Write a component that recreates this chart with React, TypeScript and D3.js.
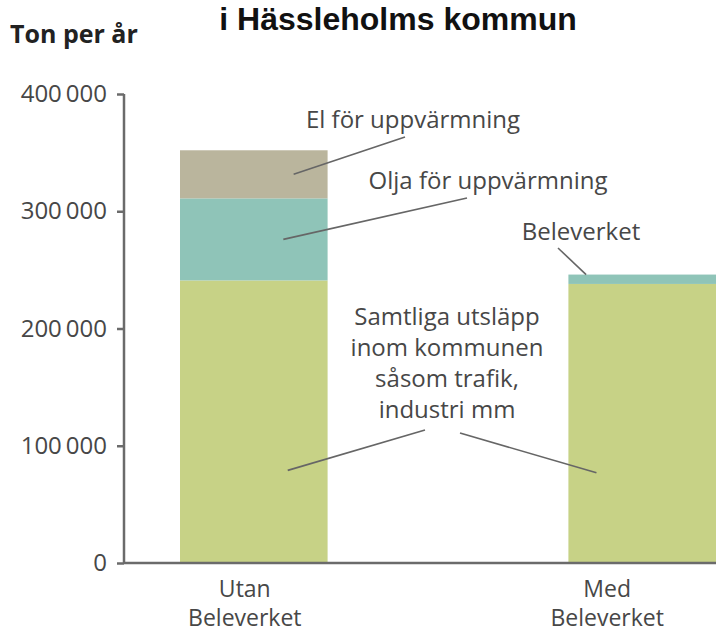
import React, { useEffect, useRef } from "react";
import * as d3 from "d3";

// Data
const categories = ["Utan\nBeleverket", "Med\nBeleverket"];
const seriesNames = ["Samtliga", "Olja", "El"];
const samtligaValues = [241000, 238000];
const oljaValues = [70000, 8000];
const elValues = [41000, 0];
const yTicks = [0, 100000, 200000, 300000, 400000];

const colors: Record<string, string> = {
  Samtliga: "#c7d286",
  Olja: "#8fc4b8",
  El: "#bab59d",
};

const W = 716;
const H = 633;

export default function App() {
  const ref = useRef<SVGSVGElement>(null);

  useEffect(() => {
    if (!ref.current) return;
    const svg = d3.select(ref.current);
    svg.selectAll("*").remove();

    const font = "'Open Sans', 'Noto Sans', sans-serif";
    const textColor = "#474747";
    const axisColor = "#6b6b6b";

    const x = d3
      .scaleBand()
      .domain(categories)
      .range([180, 716])
      .paddingInner(0.62)
      .paddingOuter(0);

    const y = d3.scaleLinear().domain([0, 400000]).range([563, 94]);

    const rows = categories.map((c, i) => ({
      cat: c,
      Samtliga: samtligaValues[i],
      Olja: oljaValues[i],
      El: elValues[i],
    }));
    const stacked = d3.stack<any>().keys(seriesNames)(rows);

    // Title
    svg
      .append("text")
      .attr("x", 398)
      .attr("y", 30)
      .attr("text-anchor", "middle")
      .style("font-family", "'Liberation Sans', Arial, sans-serif")
      .style("font-weight", "bold")
      .style("font-size", "32px")
      .attr("fill", "#111")
      .text("i Hässleholms kommun");

    svg
      .append("text")
      .attr("x", 10)
      .attr("y", 43)
      .style("font-family", font)
      .style("font-weight", "bold")
      .style("font-size", "25px")
      .attr("fill", "#222")
      .text("Ton per år");

    // Bars
    svg
      .append("g")
      .selectAll("g")
      .data(stacked)
      .join("g")
      .attr("fill", (d) => colors[d.key])
      .selectAll("rect")
      .data((d) => d)
      .join("rect")
      .attr("x", (d) => x(d.data.cat) as number)
      .attr("y", (d) => y(d[1]))
      .attr("width", x.bandwidth())
      .attr("height", (d) => y(d[0]) - y(d[1]));

    // Y axis
    const sv = d3.formatLocale({
      decimal: ",",
      thousands: "\u2009",
      grouping: [3],
      currency: ["", ""],
    });
    const fmt = sv.format(",d");
    const yAxis = svg
      .append("g")
      .attr("transform", "translate(124,0)")
      .call(
        d3
          .axisLeft(y)
          .tickValues(yTicks)
          .tickSize(7)
          .tickPadding(10)
          .tickFormat((d) => fmt(d as number))
      );
    yAxis.select(".domain").attr("stroke", axisColor).attr("stroke-width", 2.5).attr("d", "M0,94V563");
    yAxis.selectAll(".tick line").attr("stroke", axisColor).attr("stroke-width", 2.5);
    yAxis
      .selectAll(".tick text")
      .attr("fill", textColor)
      .style("font-family", font)
      .style("font-size", "24px");

    // X baseline
    svg
      .append("line")
      .attr("x1", 124)
      .attr("x2", W)
      .attr("y1", y(0))
      .attr("y2", y(0))
      .attr("stroke", axisColor)
      .attr("stroke-width", 2.5);

    // Category labels
    const labelDx = [-9, -35];
    categories.forEach((c, i) => {
      const t = svg
        .append("text")
        .attr("text-anchor", "middle")
        .attr("fill", textColor)
        .style("font-family", font)
        .style("font-size", "23px");
      c.split("\n").forEach((line, j) => {
        t.append("tspan")
          .attr("x", (x(c) as number) + x.bandwidth() / 2 + labelDx[i])
          .attr("y", 597 + j * 29)
          .text(line);
      });
    });

    // Annotations
    const bx = (i: number, f: number) => (x(categories[i]) as number) + x.bandwidth() * f;
    const notes = [
      { lines: ["El för uppvärmning"], tx: 413, ty: 128, from: [bx(0, 0.77), y(331500)], to: [405, 137] },
      { lines: ["Olja för uppvärmning"], tx: 488, ty: 189, from: [bx(0, 0.7), y(276000)], to: [467, 198] },
      { lines: ["Beleverket"], tx: 581, ty: 240, from: [bx(1, 0.12), y(246000)], to: [558, 248] },
      {
        lines: ["Samtliga utsläpp", "inom kommunen", "såsom trafik,", "industri mm"],
        tx: 447,
        ty: 325,
        from: [bx(0, 0.73), y(79000)],
        to: [425, 430],
      },
    ];
    notes.forEach((n) => {
      const t = svg
        .append("text")
        .attr("text-anchor", "middle")
        .attr("fill", textColor)
        .style("font-family", font)
        .style("font-size", "24px");
      n.lines.forEach((line, j) => {
        t.append("tspan").attr("x", n.tx).attr("y", n.ty + j * 31).text(line);
      });
      svg
        .append("line")
        .attr("x1", n.from[0])
        .attr("y1", n.from[1])
        .attr("x2", n.to[0])
        .attr("y2", n.to[1])
        .attr("stroke", "#666")
        .attr("stroke-width", 1.6);
    });
    // second leader for the Samtliga block, to the right bar
    svg
      .append("line")
      .attr("x1", 460)
      .attr("y1", 433)
      .attr("x2", bx(1, 0.19))
      .attr("y2", y(77000))
      .attr("stroke", "#666")
      .attr("stroke-width", 1.6);
  }, []);

  return (
    <svg
      ref={ref}
      width={W}
      height={H}
      style={{ position: "absolute", left: 0, top: 0, background: "#fff" }}
    />
  );
}
